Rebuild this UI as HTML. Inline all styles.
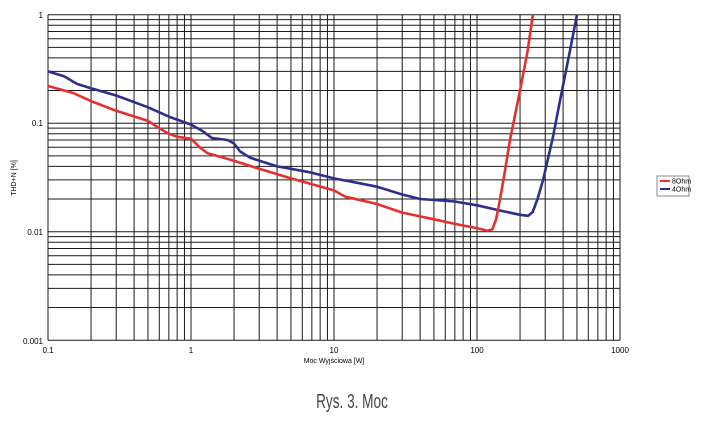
<!DOCTYPE html>
<html><head><meta charset="utf-8"><style>
body{margin:0;background:#fff;width:705px;height:422px;overflow:hidden}
svg text{font-family:"Liberation Sans",sans-serif}
</style></head><body>
<svg id="s" width="705" height="422" xmlns="http://www.w3.org/2000/svg">
<g id="grid" stroke="#1a1a1a" stroke-width="1" fill="none"></g>
<g font-size="8" fill="#000">
<text x="43" y="18" text-anchor="end">1</text>
<text x="43" y="126" text-anchor="end">0.1</text>
<text x="43" y="235" text-anchor="end">0.01</text>
<text x="43" y="344" text-anchor="end">0.001</text>
<text x="48" y="353" text-anchor="middle">0.1</text>
<text x="191" y="353" text-anchor="middle">1</text>
<text x="334" y="353" text-anchor="middle">10</text>
<text x="477" y="353" text-anchor="middle">100</text>
<text x="620" y="353" text-anchor="middle">1000</text>
<text x="334" y="363" text-anchor="middle" font-size="7">Moc Wyjściowa [W]</text>
<text transform="translate(16,178) rotate(-90)" text-anchor="middle" font-size="7">THD+N [%]</text>
</g>
<rect x="657" y="176" width="32" height="20" fill="#fff" stroke="#888"/>
<line x1="660" y1="181" x2="670" y2="181" stroke="#e53030" stroke-width="2"/>
<line x1="660" y1="189" x2="670" y2="189" stroke="#2e2e8c" stroke-width="2"/>
<text x="672" y="183.5" font-size="7">8Ohm</text>
<text x="672" y="191.5" font-size="7">4Ohm</text>
<text x="352" y="408" text-anchor="middle" font-size="20" fill="#444" transform="translate(352,0) scale(0.68,1) translate(-352,0)">Rys. 3. Moc</text>
<polyline id="blue" fill="none" stroke="#2e2e8c" stroke-width="2.6" stroke-linejoin="round"/>
<polyline id="red" fill="none" stroke="#e53030" stroke-width="2.6" stroke-linejoin="round"/>
</svg>
<script>
var L=48,R=620,T=14.7,B=340.2,dx=(R-L)/4,dy=(B-T)/3;
function X(v){return L+(Math.log10(v)+1)*dx}
function Y(v){return T-Math.log10(v)*dy}
var g=document.getElementById('grid'),h='';
for(var d=-1;d<3;d++)for(var k=1;k<10;k++){var x=X(k*Math.pow(10,d));h+='<line x1="'+x+'" y1="'+T+'" x2="'+x+'" y2="'+B+'"/>';}
h+='<line x1="'+R+'" y1="'+T+'" x2="'+R+'" y2="'+B+'"/>';
for(var d=-3;d<0;d++)for(var k=1;k<10;k++){var y=Y(k*Math.pow(10,d));h+='<line x1="'+L+'" y1="'+y+'" x2="'+R+'" y2="'+y+'"/>';}
h+='<line x1="'+L+'" y1="'+T+'" x2="'+R+'" y2="'+T+'"/>';
g.innerHTML=h;
function pts(a){return a.map(function(p){return X(p[0]).toFixed(1)+','+Y(p[1]).toFixed(1)}).join(' ')}
var red=[[0.1,0.22],[0.15,0.19],[0.2,0.16],[0.3,0.13],[0.5,0.105],[0.6,0.09],[0.7,0.08],[0.8,0.075],[1,0.072],[1.15,0.06],[1.3,0.053],[2,0.045],[3,0.038],[5,0.031],[10,0.024],[12,0.021],[20,0.018],[30,0.015],[50,0.013],[70,0.0118],[100,0.0108],[118,0.0102],[128,0.0105],[136,0.013],[145,0.02],[155,0.033],[170,0.07],[200,0.2],[225,0.45],[246,1]];
var blue=[[0.1,0.3],[0.13,0.27],[0.16,0.23],[0.2,0.21],[0.3,0.18],[0.5,0.14],[0.7,0.115],[1,0.097],[1.2,0.085],[1.4,0.073],[1.8,0.07],[2,0.065],[2.2,0.055],[2.6,0.048],[4,0.04],[5,0.038],[7,0.035],[10,0.031],[15,0.028],[20,0.026],[30,0.022],[40,0.02],[70,0.019],[100,0.0175],[150,0.0155],[200,0.0143],[228,0.014],[245,0.0152],[265,0.02],[290,0.03],[340,0.075],[380,0.16],[440,0.42],[500,1]];
document.getElementById('red').setAttribute('points',pts(red));
document.getElementById('blue').setAttribute('points',pts(blue));
</script>
</body></html>
